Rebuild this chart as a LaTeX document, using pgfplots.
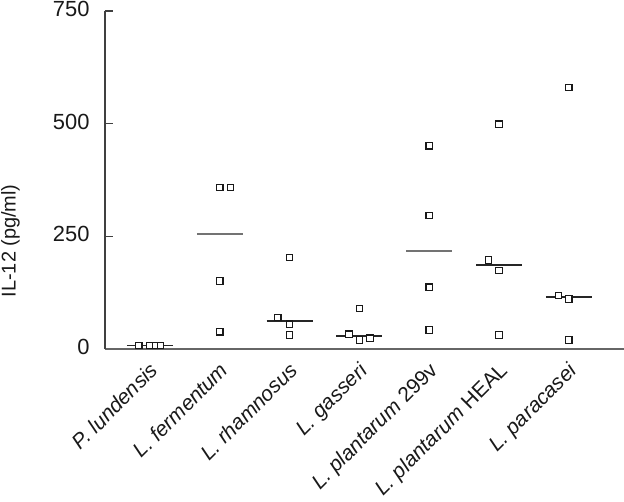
\documentclass[border=0pt]{standalone}
\usepackage{pgfplots}
\pgfplotsset{compat=1.18}
\usepackage{fontspec}
\setmainfont{Liberation Sans}
\begin{document}
\begin{tikzpicture}
\useasboundingbox (-105bp,-153bp) rectangle (519bp,349bp);
\begin{axis}[
  scale only axis,
  width=519bp, height=338bp,
  at={(0,0)}, anchor=south west,
  xmin=-0.645, xmax=6.79,
  ymin=0, ymax=750,
  axis x line*=bottom, axis y line*=left,
  x axis line style={draw=black!60, line width=1.6bp},
  y axis line style={draw=black!75, line width=1.2bp},
  ytick={0,250,500,750},
  ytick align=inside,
  major tick length=8bp,
  ytick style={draw=black!75, line width=1.2bp},
  xtick={0,1,2,3,4,5,6},
  xtick style={draw=none},
  xticklabels={\textit{P. lundensis},\textit{L. fermentum},\textit{L. rhamnosus},\textit{L. gasseri},\textit{L. plantarum} 299v,\textit{L. plantarum} HEAL,\textit{L. paracasei}},
  xticklabel style={rotate=45, anchor=north east, font=\fontsize{21}{23}\selectfont, text=black!90, xshift=-6bp, yshift=-4bp},
  yticklabel style={anchor=east, font=\fontsize{22}{24}\selectfont, xshift=-12bp, yshift=2bp, text=black!90},
  /pgf/number format/assume math mode=true,
  ylabel={IL-12 (pg/ml)},
  ylabel style={at={(rel axis cs:-0.182,0.32)}, anchor=center, font=\fontsize{20}{22}\selectfont, text=black!90},
  clip=false,
]
% medians
\addplot[black!85, line width=1.5bp] coordinates {(-0.33,8) (0.33,8)};
\addplot[black!55, line width=2bp] coordinates {(0.67,254.5) (1.33,254.5)};
\addplot[black!85, line width=1.5bp] coordinates {(1.67,62.5) (2.33,62.5)};
\addplot[black!85, line width=1.5bp] coordinates {(2.67,28.5) (3.33,28.5)};
\addplot[black!55, line width=2bp] coordinates {(3.67,216.5) (4.33,216.5)};
\addplot[black!85, line width=1.5bp] coordinates {(4.67,186) (5.33,186)};
\addplot[black!85, line width=1.5bp] coordinates {(5.67,115) (6.33,115)};
% points
\addplot[only marks, mark=square*, mark size=3.2bp, mark options={draw=black!90, fill=white, line width=1.2bp}] coordinates {
(-0.16,8) (0,8) (0.08,8) (0.15,8)
(1,358) (1.15,358) (1,151) (1,38)
(2,203) (1.83,70) (2,55) (2,31)
(3,90) (2.85,33) (3,20) (3.15,24)
(4,451) (4,296) (4,137) (4,42)
(5,499) (4.85,197.5) (5,174) (5,31)
(6,580) (5.85,119) (6,111) (6,20)
};
\end{axis}
\end{tikzpicture}
\end{document}
